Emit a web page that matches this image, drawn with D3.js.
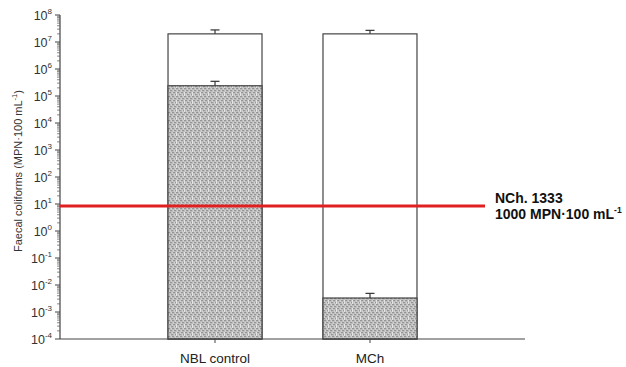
<!DOCTYPE html>
<html><head><meta charset="utf-8">
<script src="https://cdn.jsdelivr.net/npm/d3@7"></script>
<style>body{margin:0;background:#fff;}svg{display:block;font-family:Arial,"Liberation Sans",sans-serif;}</style>
</head><body>
<svg id="c" width="626" height="367"></svg>
<script>
const categories = ["NBL control", "MCh"];
const totalValues = [2.0e7, 2.0e7];
const totalErrors = [2.8e7, 2.7e7];
const faecalValues = [2.4e5, 3.3e-3];
const faecalErrors = [3.5e5, 4.9e-3];
const limitValue = 8.5;
const limitLabels = ["NCh. 1333", "1000 MPN·100 mL"];
const yExponents = [-4,-3,-2,-1,0,1,2,3,4,5,6,7,8];

const svg = d3.select("#c");
const x0 = 60, x1 = 525, yTop = 15, yBot = 339;
const y = d3.scaleLog().domain([1e-4, 1e8]).range([yBot, yTop]);
const x = d3.scaleBand().domain(categories).range([x0, x1]).paddingInner(0.3935).paddingOuter(0.697);

// stipple pattern
const defs = svg.append("defs");
const pat = defs.append("pattern").attr("id","stip").attr("patternUnits","userSpaceOnUse").attr("width",8).attr("height",8);
pat.append("rect").attr("width",8).attr("height",8).attr("fill","#e4e4e4");
const dark = [[0,0],[4,0],[2,2],[6,2],[1,4],[5,4],[3,6],[7,6]];
const mid = [[2,0],[6,0],[0,2],[4,2],[3,4],[7,4],[1,6],[5,6]];
dark.forEach(([a,b])=>pat.append("rect").attr("x",a).attr("y",b).attr("width",2).attr("height",1.5).attr("fill","#959595"));
mid.forEach(([a,b])=>pat.append("rect").attr("x",a).attr("y",b).attr("width",1.5).attr("height",2).attr("fill","#bdbdbd"));

const g = svg.append("g");
g.selectAll(".tot").data(categories).join("rect")
  .attr("x", d=>x(d)).attr("width", x.bandwidth())
  .attr("y", (d,i)=>y(totalValues[i])).attr("height",(d,i)=>yBot - y(totalValues[i]))
  .attr("fill","#fff").attr("stroke","#444").attr("stroke-width",1.2);
g.selectAll(".fae").data(categories).join("rect")
  .attr("x", d=>x(d)).attr("width", x.bandwidth())
  .attr("y", (d,i)=>y(faecalValues[i])).attr("height",(d,i)=>yBot - y(faecalValues[i]))
  .attr("fill","url(#stip)").attr("stroke","#444").attr("stroke-width",1.2);

function errbar(vals, errs){
  categories.forEach((c,i)=>{
    const cx = x(c)+x.bandwidth()/2;
    g.append("line").attr("x1",cx).attr("x2",cx).attr("y1",y(vals[i])).attr("y2",y(errs[i])).attr("stroke","#333").attr("stroke-width",1.2);
    g.append("line").attr("x1",cx-4.5).attr("x2",cx+4.5).attr("y1",y(errs[i])).attr("y2",y(errs[i])).attr("stroke","#333").attr("stroke-width",1.2);
  });
}
errbar(totalValues, totalErrors);
errbar(faecalValues, faecalErrors);

const ax = svg.append("g");
ax.append("line").attr("x1",x0).attr("x2",x0).attr("y1",yTop).attr("y2",yBot).attr("stroke","#444").attr("stroke-width",1.2);
yExponents.forEach(e=>{
  const v = Math.pow(10,e);
  ax.append("line").attr("x1",x0-5).attr("x2",x0).attr("y1",y(v)).attr("y2",y(v)).attr("stroke","#444").attr("stroke-width",1);
  if (e < 8) for (let k=2;k<=9;k++){
    const yy = y(k*v);
    ax.append("line").attr("x1",x0-3).attr("x2",x0).attr("y1",yy).attr("y2",yy).attr("stroke","#555").attr("stroke-width",0.7);
  }
  const t = ax.append("text").attr("x",x0-8).attr("y",y(v)+5).attr("text-anchor","end").attr("font-size",12.5).attr("fill","#333");
  t.append("tspan").text("10");
  t.append("tspan").attr("font-size",8).attr("dy",-6).text(e<0 ? "-"+(-e) : String(e));
});
ax.append("line").attr("x1",x0).attr("x2",x1).attr("y1",yBot).attr("y2",yBot).attr("stroke","#444").attr("stroke-width",1.2);
categories.forEach(c=>{
  const cx = x(c)+x.bandwidth()/2;
  ax.append("line").attr("x1",cx).attr("x2",cx).attr("y1",yBot).attr("y2",yBot+4).attr("stroke","#444");
  ax.append("text").attr("x",cx).attr("y",363).attr("text-anchor","middle").attr("font-size",13.5).attr("fill","#222").text(c);
});
const yl = svg.append("text").attr("transform","translate(22,171) rotate(-90)").attr("text-anchor","middle").attr("font-size",11).attr("fill","#333");
yl.append("tspan").text("Faecal coliforms (MPN·100 mL");
yl.append("tspan").attr("font-size",7.5).attr("dy",-5).text("-1");
yl.append("tspan").attr("dy",5).text(")");

svg.append("line").attr("x1",x0).attr("x2",485).attr("y1",y(limitValue)).attr("y2",y(limitValue)).attr("stroke","#e02020").attr("stroke-width",3);
svg.append("text").attr("x",495).attr("y",203).attr("font-size",14).attr("font-weight","bold").attr("fill","#111").text(limitLabels[0]);
const l2 = svg.append("text").attr("x",495).attr("y",219).attr("font-size",14).attr("font-weight","bold").attr("fill","#111");
l2.append("tspan").text(limitLabels[1]);
l2.append("tspan").attr("font-size",8.5).attr("dy",-6).text("-1");
</script>
</body></html>
